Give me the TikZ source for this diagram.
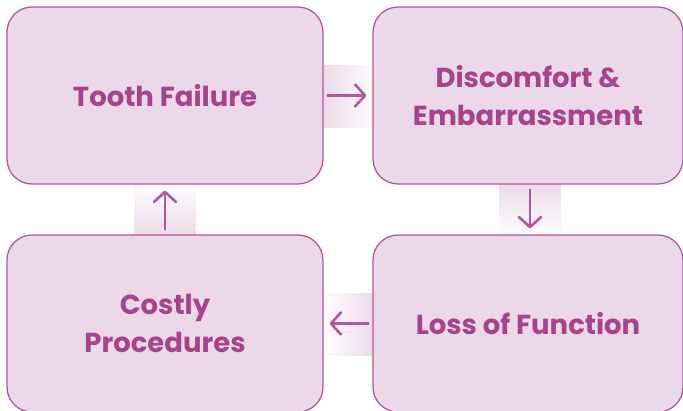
\documentclass[tikz,border=0pt]{standalone}
\usepackage{fontspec}
\setmainfont{Poppins}
\usepackage{tikz}
\usetikzlibrary{arrows.meta}
\definecolor{boxfill}{HTML}{EBD8E9}
\definecolor{boxline}{HTML}{B4569C}
\definecolor{boxtext}{HTML}{A6438A}

\begin{document}
\begin{tikzpicture}[x=1pt, y=-1pt,
                    stage/.style = {draw=boxline,
                                    line width=1.3pt,
                                    fill=boxfill,
                                    rounded corners=25pt,
                                    minimum width=316pt,
                                    minimum height=177pt,
                                    align=center,
                                    text=boxtext,
                                    font=\fontsize{27.5}{38}\selectfont\bfseries},
                    flow/.style = {draw=boxline,
                                   line width=2.6pt,
                                   line cap=round,
                                   -{Straight Barb[round,length=10pt,width=22pt]}}]

	\clip (0,0) rectangle (683,410);

	% fading bands behind the arrows
	\shade[left color=boxfill, right color=white] (320,65) rectangle (376,127);
	\shade[top color=boxfill, bottom color=white] (499,181) rectangle (561,238);
	\shade[top color=white, bottom color=boxfill] (134,181) rectangle (196,238);
	\shade[left color=white, right color=boxfill] (320,293) rectangle (376,355);

	\node (fail) at (165,95.5) [stage] {Tooth Failure};
	\node (disc) at (528,95.5) [stage, minimum width=310pt] {Discomfort \&\\Embarrassment};
	\node (loss) at (528,323.5) [stage, minimum width=310pt] {Loss of Function};
	\node (cost) at (165,323.5) [stage] {Costly\\Procedures};

	\draw[flow, shorten <=4pt, shorten >=6pt] (fail.east) -- (disc.west);
	\draw[flow, shorten <=5pt, shorten >=6pt] ([xshift=2pt]disc.south) -- ([xshift=2pt]loss.north);
	\draw[flow, shorten <=4pt, shorten >=6pt] (loss.west) -- (cost.east);
	\draw[flow, shorten <=5pt, shorten >=6pt] (cost.north) -- (fail.south);

\end{tikzpicture}
\end{document}
